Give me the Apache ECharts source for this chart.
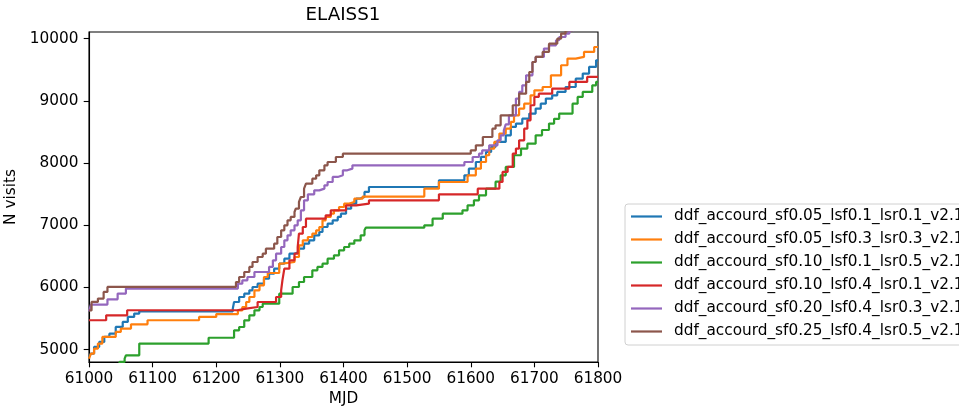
<!DOCTYPE html>
<html>
<head>
<meta charset="utf-8">
<script src="https://cdn.jsdelivr.net/npm/echarts@6/dist/echarts.min.js"></script>
<style>html,body{margin:0;padding:0;background:#fff}#c{width:959px;height:408px}</style>
</head>
<body>
<div id="c"></div>
<script>
const title = 'ELAISS1';
const xTicks = [61000, 61100, 61200, 61300, 61400, 61500, 61600, 61700, 61800];
const yTicks = [5000, 6000, 7000, 8000, 9000, 10000];
const seriesNames = [
  'ddf_accourd_sf0.05_lsf0.1_lsr0.1_v2.1',
  'ddf_accourd_sf0.05_lsf0.3_lsr0.3_v2.1',
  'ddf_accourd_sf0.10_lsf0.1_lsr0.5_v2.1',
  'ddf_accourd_sf0.10_lsf0.4_lsr0.1_v2.1',
  'ddf_accourd_sf0.20_lsf0.4_lsr0.3_v2.1',
  'ddf_accourd_sf0.25_lsf0.4_lsr0.5_v2.1'
];
const colors = ['#1f77b4', '#ff7f0e', '#2ca02c', '#d62728', '#9467bd', '#8c564b'];

const blueMjd = [61000,61003,61008,61016,61024,61032,61042,61053,61061,61071,61079,61226,61228,61236,61244,61252,61257,61265,61275,61283,61291,61299,61307,61315,61323,61330,61338,61346,61354,61362,61367,61375,61383,61391,61396,61404,61412,61420,61425,61433,61440,61550,61590,61597,61608,61616,61624,61632,61639,61655,61663,61671,61681,61692,61702,61710,61718,61728,61736,61749,61765,61776,61786,61797,61800];
const blueVisits = [4881,4935,5042,5122,5203,5256,5364,5444,5524,5578,5615,5658,5765,5845,5899,5952,6006,6060,6140,6220,6301,6381,6462,6542,6569,6622,6703,6756,6837,6890,6971,7024,7078,7132,7185,7266,7346,7426,7453,7534,7614,7721,7802,7909,8016,8097,8177,8258,8338,8445,8579,8633,8713,8794,8874,8954,9035,9088,9142,9222,9356,9437,9544,9651,9651];

const orangeMjd = [61000,61003,61008,61014,61021,61042,61050,61066,61092,61173,61200,61234,61241,61247,61252,61260,61268,61275,61281,61299,61304,61323,61330,61336,61344,61351,61357,61362,61367,61372,61380,61385,61393,61401,61409,61417,61430,61527,61550,61595,61608,61616,61624,61629,61637,61645,61655,61663,61668,61676,61684,61694,61700,61713,61726,61742,61752,61765,61778,61794,61800];
const orangeVisits = [4854,4935,5015,5096,5203,5283,5337,5406,5471,5524,5570,5631,5684,5765,5845,5952,6033,6167,6231,6381,6408,6488,6676,6756,6810,6863,6917,6971,7078,7132,7185,7239,7292,7346,7373,7426,7460,7587,7694,7802,7909,8016,8124,8231,8338,8472,8552,8660,8767,8874,8954,9088,9169,9222,9410,9571,9678,9705,9785,9865,9865];

const greenMjd = [61000,61030,61048,61056,61058,61079,61188,61228,61236,61244,61252,61260,61268,61273,61299,61320,61330,61338,61351,61359,61367,61375,61385,61393,61401,61409,61417,61427,61433,61435,61527,61540,61556,61587,61595,61605,61613,61624,61639,61647,61655,61668,61679,61689,61702,61712,61723,61731,61739,61760,61768,61776,61791,61797,61800];
const greenVisits = [4650,4720,4801,4854,4908,5096,5190,5309,5363,5470,5550,5631,5684,5738,5899,6006,6086,6167,6274,6328,6381,6462,6515,6596,6649,6703,6756,6837,6917,6960,6998,7105,7185,7239,7319,7400,7480,7587,7700,7802,7936,8124,8231,8311,8445,8530,8633,8710,8794,8954,9062,9142,9249,9303,9303];

const redMjd = [61000,61027,61060,61233,61247,61265,61294,61302,61304,61307,61315,61323,61328,61330,61336,61341,61372,61380,61404,61420,61440,61550,61611,61645,61650,61658,61666,61671,61676,61684,61689,61694,61700,61707,61728,61755,61783,61800];
const redVisits = [5471,5551,5632,5658,5684,5765,5845,5952,6113,6301,6435,6542,6649,6864,6971,7105,7158,7239,7319,7346,7400,7496,7587,7695,7856,7936,8150,8231,8365,8552,8686,8928,9062,9115,9196,9303,9383,9383];

const purpleMjd = [61000,61003,61029,61045,61058,61234,61241,61249,61260,61283,61289,61294,61302,61307,61312,61317,61323,61328,61333,61338,61344,61354,61362,61370,61375,61383,61391,61399,61406,61414,61590,61603,61613,61618,61629,61642,61647,61652,61655,61660,61671,61676,61681,61687,61697,61702,61715,61723,61734,61739,61749,61755,61762];
const purpleVisits = [5615,5723,5808,5900,5980,6060,6113,6167,6247,6328,6435,6542,6649,6756,6837,6917,6998,7078,7239,7400,7496,7560,7587,7641,7694,7775,7802,7882,7909,7962,8016,8096,8150,8204,8284,8365,8445,8525,8620,8767,9035,9142,9249,9410,9624,9705,9839,9892,9973,10026,10080,10134,10300];

const brownMjd = [61000,61004,61014,61023,61029,61231,61236,61244,61252,61257,61265,61273,61278,61291,61296,61302,61307,61312,61317,61323,61325,61330,61333,61338,61341,61351,61357,61362,61370,61375,61388,61399,61600,61608,61619,61634,61639,61647,61666,61676,61687,61692,61697,61702,61713,61723,61736,61742,61749,61760];
const brownVisits = [5630,5766,5820,5927,6007,6086,6167,6247,6328,6408,6488,6542,6622,6703,6810,6917,6998,7078,7132,7212,7266,7373,7453,7587,7668,7748,7802,7882,7962,8016,8096,8150,8204,8284,8418,8552,8606,8767,8928,9115,9303,9463,9624,9705,9785,9919,9999,10080,10134,10300];

const allMjd = [blueMjd, orangeMjd, greenMjd, redMjd, purpleMjd, brownMjd];
const allVisits = [blueVisits, orangeVisits, greenVisits, redVisits, purpleVisits, brownVisits];

const FONT = 'DejaVu Sans';
const FS = 15.3;
const chart = echarts.init(document.getElementById('c'), null, {renderer: 'canvas'});

const series = seriesNames.map((name, i) => {
  const xs = allMjd[i], ys = allVisits[i];
  const n = Math.min(xs.length, ys.length);
  const data = [];
  for (let k = 0; k < n; k++) data.push([xs[k], ys[k]]);
  return {
    name: name, type: 'line', step: 'end', data: data,
    symbol: 'none', showSymbol: false, clip: true,
    lineStyle: {color: colors[i], width: 2.2},
    itemStyle: {color: colors[i]},
    animation: false, z: 2 + i
  };
});

chart.setOption({
  animation: false,
  backgroundColor: '#ffffff',
  title: {
    text: title, left: 343, top: 6, padding: 0, textAlign: 'center',
    textStyle: {fontFamily: FONT, fontSize: 18.3, fontWeight: 'normal', color: '#000'}
  },
  grid: {
    left: 89, right: 361, top: 32, bottom: 46,
    containLabel: false, outerBoundsMode: 'none',
    show: true, borderColor: '#000', borderWidth: 1.1, backgroundColor: 'transparent'
  },
  legend: {
    orient: 'vertical', left: 625, top: 204,
    icon: 'rect', itemWidth: 31, itemHeight: 2.2, itemGap: 8,
    padding: [5, 8, 6, 6],
    backgroundColor: 'rgba(255,255,255,0.8)', borderColor: '#d0d0d0', borderWidth: 1, borderRadius: 3,
    textStyle: {fontFamily: FONT, fontSize: FS, color: '#000', lineHeight: 15, padding: [0, 0, 0, 7]},
    data: seriesNames
  },
  xAxis: {
    type: 'value', min: 61000, max: 61800, interval: 100,
    name: 'MJD', nameLocation: 'middle', nameGap: 30,
    nameTextStyle: {fontFamily: FONT, fontSize: FS, color: '#000'},
    axisLine: {show: true, lineStyle: {color: '#000', width: 1.1}},
    axisTick: {show: true, inside: false, length: 5.3, customValues: xTicks, lineStyle: {color: '#000', width: 1.1}},
    axisLabel: {fontFamily: FONT, fontSize: FS, color: '#000', margin: 10, customValues: xTicks, formatter: v => String(v)},
    splitLine: {show: false}
  },
  yAxis: {
    type: 'value', min: 4800, max: 10106,
    name: 'N visits', nameLocation: 'middle', nameGap: 59, nameRotate: 90,
    nameTextStyle: {fontFamily: FONT, fontSize: FS, color: '#000'},
    axisLine: {show: true, lineStyle: {color: '#000', width: 1.1}},
    axisTick: {show: true, inside: false, length: 5.3, customValues: yTicks, lineStyle: {color: '#000', width: 1.1}},
    axisLabel: {fontFamily: FONT, fontSize: FS, color: '#000', margin: 10.5, customValues: yTicks, formatter: v => String(v)},
    splitLine: {show: false}
  },
  series: series
});
</script>
</body>
</html>
